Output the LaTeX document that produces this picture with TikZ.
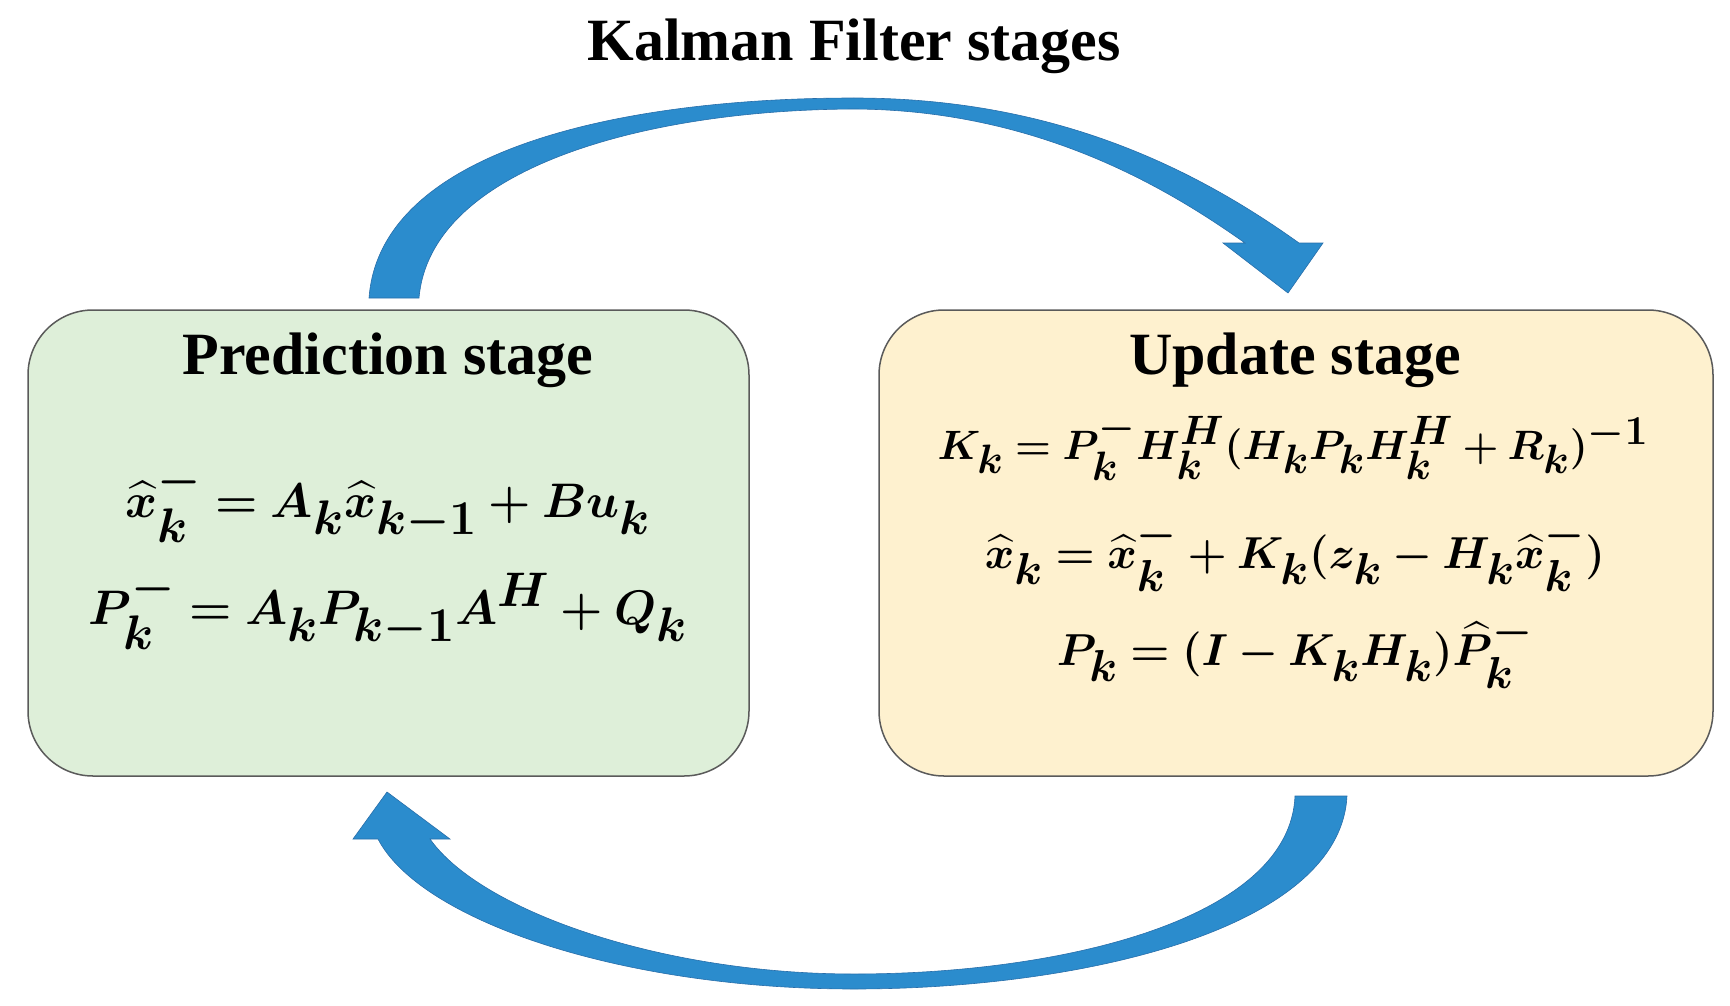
\documentclass[tikz,border=0pt]{standalone}
\usepackage{fontspec}
\setmainfont{Liberation Serif}
\usepackage{amsmath,bm,graphicx}
\definecolor{arrblue}{RGB}{43,140,205}
\definecolor{arredge}{RGB}{40,110,170}
\definecolor{boxgreen}{RGB}{222,239,217}
\definecolor{boxyellow}{RGB}{254,241,207}
\definecolor{boxedge}{RGB}{90,90,90}
\newcommand{\bigeq}[2][1.95]{\scalebox{#1}{$\bm{#2}$}}
\begin{document}
\begin{tikzpicture}[x=1pt,y=-1pt,
  stagebox/.style={draw=boxedge,line width=1.5pt,rounded corners=65pt},
  head/.style={font=\fontsize{60}{66}\selectfont\bfseries},
  eq/.style={font=\fontsize{50}{56}\selectfont},
  bluearrow/.style={fill=arrblue,draw=arredge,line width=0.6pt}]
\useasboundingbox (0,0) rectangle (1730,1006);
\node[font=\fontsize{60}{66}\selectfont\bfseries] (title) at (854,46) {Kalman Filter stages};
\draw[stagebox,fill=boxgreen] (28,310) rectangle (749,776);
\draw[stagebox,fill=boxyellow] (879,310) rectangle (1713,776);
\node[head] (pred) at (388,360) {Prediction stage};
\node[head] (upd) at (1295,360) {Update stage};
\node[eq] (e1) at (388,503) {\bigeq{\widehat{x}_k^- = A_k\widehat{x}_{k-1} + Bu_k}};
\node[eq] (e2) at (388,610) {\bigeq{P_k^- = A_kP_{k-1}A^H + Q_k}};
\node[eq] (e3) at (1293,447) {\bigeq[1.65]{K_k = P_k^- H_k^H(H_kP_kH_k^H + R_k)^{-1}}};
\node[eq] (e4) at (1295,555) {\bigeq[1.8]{\widehat{x}_k = \widehat{x}_k^- + K_k(z_k - H_k\widehat{x}_k^-)}};
\node[eq] (e5) at (1295,652) {\bigeq[1.8]{P_k = (I - K_kH_k)\widehat{P}_k^-}};
% top arrow
\draw[bluearrow] (369,298) .. controls (380,150) and (620,98) .. (854,98)
  .. controls (1050,98) and (1190,165) .. (1299,243) -- (1323,243) -- (1288,293) -- (1223,243) -- (1245,243)
  .. controls (1170,190) and (1040,110) .. (854,109)
  .. controls (640,110) and (430,170) .. (419,298) -- cycle;
% bottom arrow
\draw[bluearrow] (1347,796) .. controls (1340,930) and (1080,989) .. (854,989)
  .. controls (620,989) and (420,920) .. (378,839) -- (353,839) -- (387,792) -- (450,839) -- (430,839)
  .. controls (480,910) and (660,974) .. (854,974)
  .. controls (1060,974) and (1290,920) .. (1295,796) -- cycle;
\end{tikzpicture}
\end{document}
